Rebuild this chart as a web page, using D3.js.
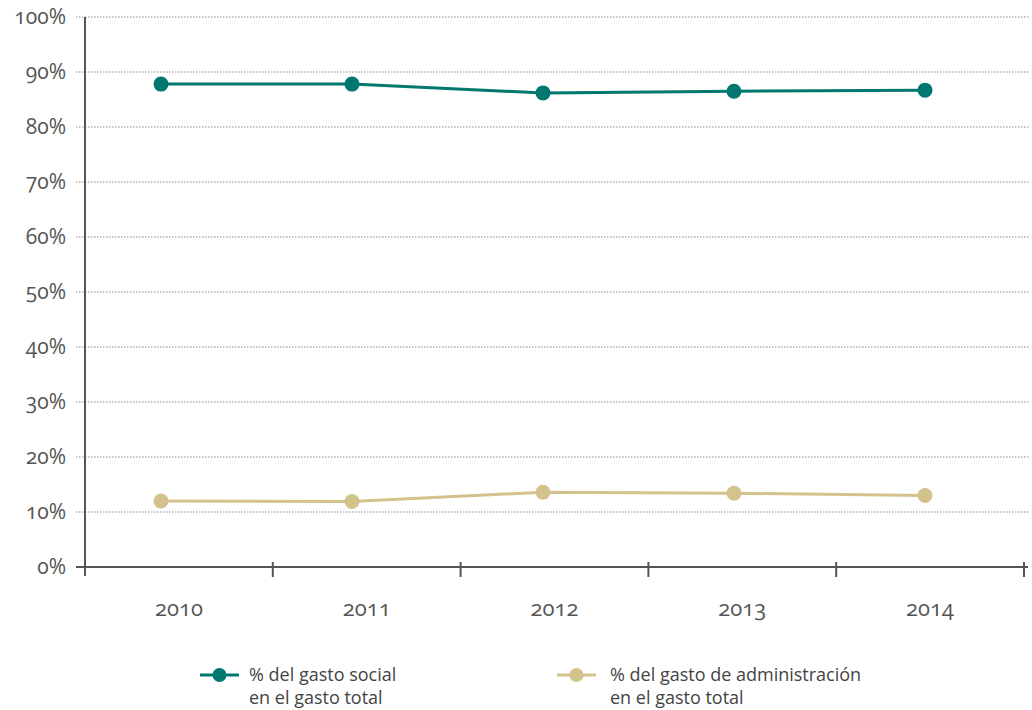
<!DOCTYPE html>
<html>
<head>
<meta charset="utf-8">
<script src="https://cdn.jsdelivr.net/npm/d3@7"></script>
<style>
  body { margin: 0; background: #fff; }
  text { font-family: "Open Sans", "Lato", sans-serif; font-variant-numeric: oldstyle-nums; }
</style>
</head>
<body>
<script>
var years = ["2010", "2011", "2012", "2013", "2014"];
var social = [87.8, 87.8, 86.2, 86.5, 86.7];
var admin = [12.0, 11.9, 13.6, 13.4, 13.0];
var yTicks = [0, 10, 20, 30, 40, 50, 60, 70, 80, 90, 100];
var seriesNames = [["% del gasto social", "en el gasto total"],
                   ["% del gasto de administración", "en el gasto total"]];

var width = 1032,
    height = 710;

var svg = d3.select("body").append("svg")
    .attr("width", width)
    .attr("height", height);

var y = d3.scaleLinear().domain([0, 100]).range([567, 17]);
var xBand = d3.scaleBand().domain(years).range([85, 1024]);
var xPt = d3.scalePoint().domain(years).range([161, 925]);

// gridlines
svg.selectAll(".grid")
  .data(yTicks.filter(function(d) { return d > 0; }))
  .enter().append("line")
    .attr("x1", 76).attr("x2", 1030)
    .attr("y1", function(d) { return y(d); })
    .attr("y2", function(d) { return y(d); })
    .attr("stroke", "#888")
    .attr("stroke-width", 1)
    .attr("stroke-dasharray", "1.5,1.5");

// y labels
svg.selectAll(".ylab")
  .data(yTicks)
  .enter().append("text")
    .attr("x", 66)
    .attr("y", function(d) { return y(d) + 7; })
    .attr("text-anchor", "end")
    .attr("font-size", 21)
    .attr("fill", "#555")
    .text(function(d) { return d + "%"; });

// axes
svg.append("line")
    .attr("x1", 85).attr("x2", 85)
    .attr("y1", 17).attr("y2", 576)
    .attr("stroke", "#555").attr("stroke-width", 2);
svg.append("line")
    .attr("x1", 76).attr("x2", 1028)
    .attr("y1", 567).attr("y2", 567)
    .attr("stroke", "#555").attr("stroke-width", 2);

var bounds = years.map(function(d) { return xBand(d); }).concat([xBand.range()[1]]);
svg.selectAll(".xtick")
  .data(bounds.slice(1))
  .enter().append("line")
    .attr("x1", function(d) { return d; })
    .attr("x2", function(d) { return d; })
    .attr("y1", 562).attr("y2", 577)
    .attr("stroke", "#555").attr("stroke-width", 2);

svg.selectAll(".xlab")
  .data(years)
  .enter().append("text")
    .attr("x", function(d) { return xBand(d) + xBand.bandwidth() / 2; })
    .attr("y", 616)
    .attr("text-anchor", "middle")
    .attr("font-size", 22)
    .attr("fill", "#555")
    .text(function(d) { return d; });

var colors = ["#00776F", "#D3C28C"];
var line = d3.line()
    .x(function(d, i) { return xPt(years[i]); })
    .y(function(d) { return y(d); });

[social, admin].forEach(function(series, k) {
  svg.append("path")
      .attr("d", line(series))
      .attr("fill", "none")
      .attr("stroke", colors[k])
      .attr("stroke-width", 3);
  svg.selectAll(".pt" + k)
    .data(series)
    .enter().append("circle")
      .attr("cx", function(d, i) { return xPt(years[i]); })
      .attr("cy", function(d) { return y(d); })
      .attr("r", 7.5)
      .attr("fill", colors[k]);
});

// legend
var legX = [200, 557];
var legText = [49, 53];
seriesNames.forEach(function(lines, k) {
  var g = svg.append("g").attr("transform", "translate(" + legX[k] + ",675)");
  g.append("line").attr("x1", 0).attr("x2", 39).attr("y1", 0).attr("y2", 0)
      .attr("stroke", colors[k]).attr("stroke-width", 3);
  g.append("circle").attr("cx", 19.5).attr("cy", 0).attr("r", 7).attr("fill", colors[k]);
  g.selectAll("text")
    .data(lines)
    .enter().append("text")
      .attr("x", legText[k])
      .attr("y", function(d, i) { return 6 + i * 23; })
      .attr("font-size", 18)
      .attr("fill", "#444")
      .text(function(d) { return d; });
});
</script>
</body>
</html>
